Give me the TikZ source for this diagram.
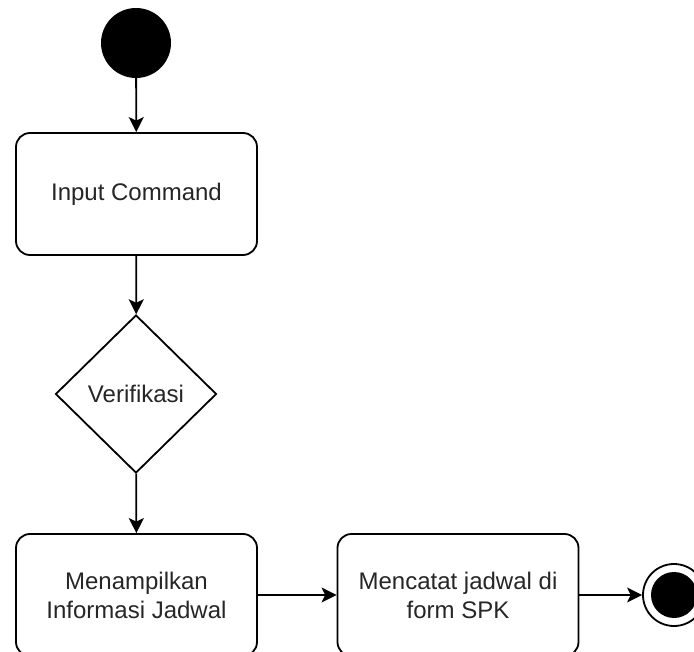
\documentclass[tikz,border=0pt]{standalone}
\usepackage{fontspec}
\setmainfont{Liberation Sans}
\usetikzlibrary{shapes.geometric,arrows.meta}
\begin{document}
\begin{tikzpicture}[x=1pt,y=-1pt,
  every node/.style={font=\fontsize{24}{29}\selectfont, text=black!85},
  action/.style={draw, line width=1.8pt, rounded corners=14pt, fill=white,
    minimum width=241pt, minimum height=122pt, align=center, inner sep=0pt},
  decision/.style={draw, diamond, line width=1.8pt, fill=white,
    minimum width=161pt, minimum height=158pt, inner sep=0pt},
  flow/.style={line width=1.8pt, -{Stealth[length=15pt,width=15pt,inset=3.5pt]}},
]
\useasboundingbox (0,0) rectangle (694,652);
\clip (0,0) rectangle (694,652);

% initial and final states
\node[circle, fill=black, minimum size=70pt, inner sep=0pt] (start) at (136,43) {};
\node[circle, draw, line width=1.8pt, fill=white, minimum size=62pt, inner sep=0pt] (finish) at (674,595) {};
\node[circle, fill=black, minimum size=46pt, inner sep=0pt] (finishdot) at (674,595) {};

% activities
\node[action] (input) at (136.5,194) {Input Command};
\node[decision] (verify) at (136,394) {Verifikasi};
\node[action] (show) at (136.5,595) {Menampilkan\\Informasi Jadwal};
\node[action] (record) at (458,595) {Mencatat jadwal di\\form SPK};

% control flow
\draw[flow] (start) -- (input);
\draw[flow] (input) -- (verify);
\draw[flow] (verify) -- (show);
\draw[flow] (show) -- (record);
\draw[flow] (record) -- (finish);
\end{tikzpicture}
\end{document}
